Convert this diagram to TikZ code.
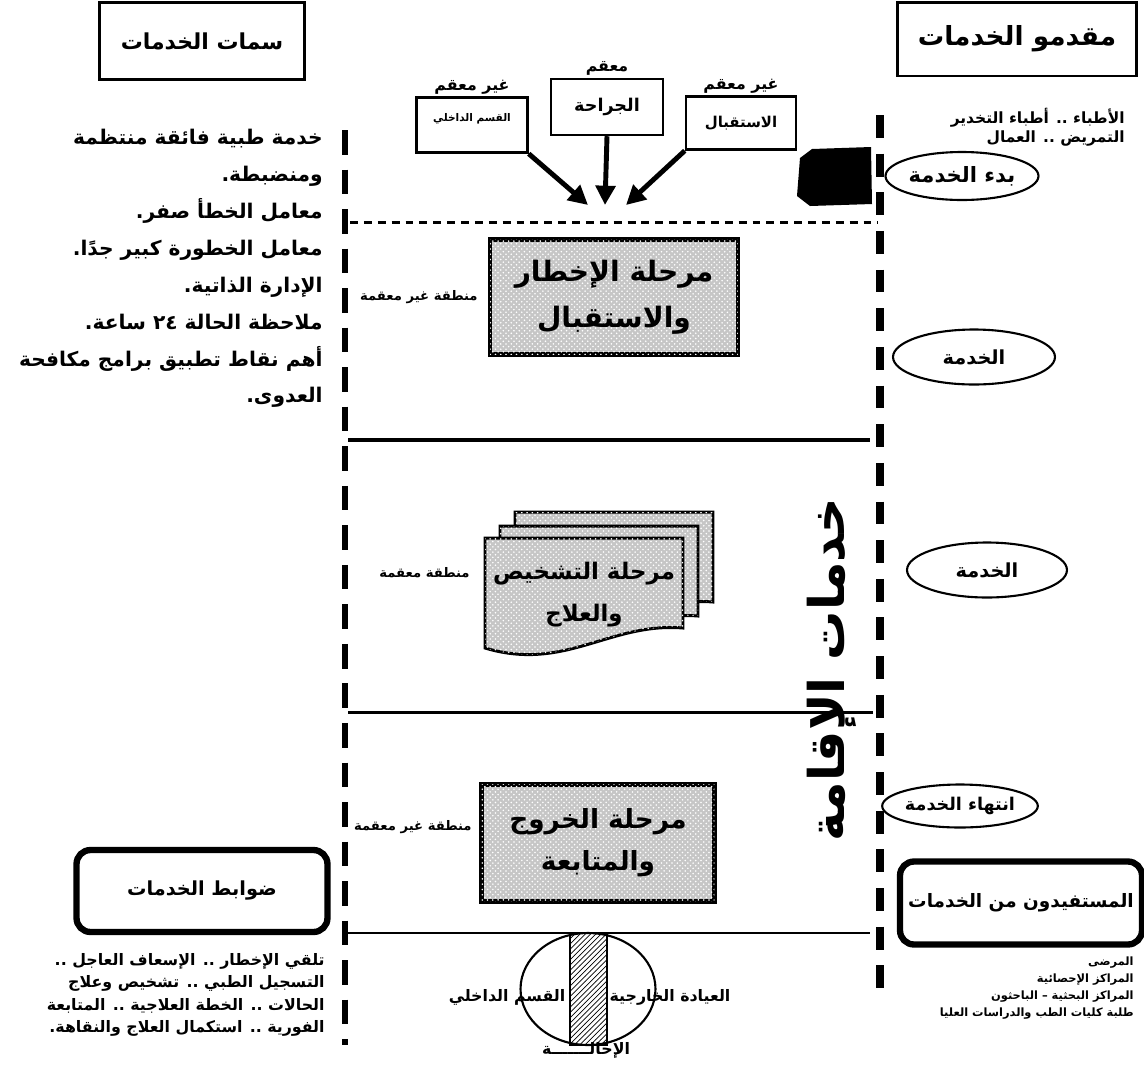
\documentclass[tikz,border=0pt]{standalone}
\usepackage{fontspec}
\usepackage{tikz}
\usetikzlibrary{arrows.meta,shapes,patterns}
\usetikzlibrary{calc}
\newfontfamily\arabicfont[Script=Arabic]{DejaVu Sans}
\TeXXeTstate=1
\newcommand{\artxt}[1]{{\arabicfont\bfseries\beginR #1\endR}}
\tikzstyle{titlebox}=[draw, line width=1.7pt, inner sep=0pt]
\tikzstyle{roundbox}=[draw, rounded corners=0.28cm, line width=3.6pt, inner sep=0pt]
\tikzstyle{unitbox}=[draw, line width=1.4pt, inner sep=0pt, font=\fontsize{9}{10}\selectfont]
\tikzstyle{phase}=[draw, line width=2.8pt, inner sep=0pt, fill=gray!45,% a grey ground with white specks
postaction={pattern=crosshatch dots, pattern color=white}, align=center, font=\fontsize{16}{26}\selectfont]
\tikzstyle{stage}=[ellipse, draw, line width=1.2pt, inner sep=0pt]
\tikzstyle{zone}=[anchor=east, inner sep=0pt, font=\fontsize{7.5}{8}\selectfont]
\tikzstyle{tag}=[font=\fontsize{9}{10}\selectfont, inner sep=1pt]
\tikzstyle{divider}=[dash pattern=on 14pt off 8.5pt]
\tikzstyle{feed}=[-{Triangle[length=11pt,width=11pt]}, line width=2.8pt]

\begin{document}
\begin{tikzpicture}[x=0.02cm, y=-0.02cm]
\useasboundingbox (0,0) rectangle (1144,1066);

\coordinate (lt) at (345,130);
\coordinate (lb) at (345,1045);
\coordinate (rt) at (880,115);
\coordinate (rb) at (880,995);
\draw[divider, line width=3.2pt] (lt) -- (lb);
\draw[divider, line width=4pt, dash pattern=on 13pt off 9pt] (rt) -- (rb);

\node[titlebox, minimum width=4.1cm, minimum height=1.54cm, font=\fontsize{12.5}{14}\selectfont] (feat) at (202,41) {\artxt{سمات الخدمات}};
\node[titlebox, minimum width=4.8cm, minimum height=1.48cm, font=\fontsize{15}{16}\selectfont] (prov) at (1017,39) {\artxt{مقدمو الخدمات}};

\node[anchor=north east, inner sep=0pt, align=right, font=\fontsize{11.5}{21}\selectfont] (featlist) at (323,129) {\artxt{خدمة طبية فائقة منتظمة}\\ \artxt{ومنضبطة.}\\ \artxt{معامل الخطأ صفر.}\\ \artxt{معامل الخطورة كبير جدًا.}\\ \artxt{الإدارة الذاتية.}\\ \artxt{ملاحظة الحالة ٢٤ ساعة.}\\ \artxt{أهم نقاط تطبيق برامج مكافحة}\\ \artxt{العدوى.}};

\node[anchor=east, inner sep=0pt, align=right, font=\fontsize{8.8}{11}\selectfont] (staff) at (1125,127) {\artxt{الأطباء .. أطباء التخدير}\\ \artxt{التمريض .. العمال}};

\node[unitbox, minimum width=2.22cm, minimum height=1.1cm, text depth=0.3cm, font=\fontsize{6}{7}\selectfont,
  label={[tag]above:{\arabicfont\bfseries\beginR غير معقم\endR}}] (inner) at (472,125) {\artxt{القسم الداخلي}};
\node[unitbox, minimum width=2.24cm, minimum height=1.12cm, font=\fontsize{10}{11}\selectfont,
  label={[tag]above:{\arabicfont\bfseries\beginR معقم\endR}}] (surg) at (607,107) {\artxt{الجراحة}};
\node[unitbox, minimum width=2.2cm, minimum height=1.06cm, font=\fontsize{8.5}{10}\selectfont,
  label={[tag]above:{\arabicfont\bfseries\beginR غير معقم\endR}}] (recep) at (741,123) {\artxt{الاستقبال}};
\coordinate (tipl) at (588,205);
\coordinate (tipm) at (605,205);
\coordinate (tipr) at (626,205);
\draw[feed] (inner.south east) -- (tipl);
\draw[feed] (surg.south) -- (tipm);
\draw[feed] (recep.south west) -- (tipr);

\fill (800,158) -- (812,149) -- (871,147) -- (872,204) -- (810,206) -- (797,196) -- cycle;
\node[stage, minimum width=3.06cm, minimum height=0.96cm, font=\fontsize{12}{13}\selectfont] (start) at (962,176) {\artxt{بدء الخدمة}};

\draw[line width=1.7pt, dash pattern=on 4.5pt off 3.4pt] (350,222) -- (878,222);

\node[phase, minimum width=4.96cm, minimum height=2.3cm] (ph1) at (614,297) {\artxt{مرحلة الإخطار}\\ \artxt{والاستقبال}};
\node[zone] (z1) at (478,297) {\artxt{منطقة غير معقمة}};
\node[stage, minimum width=3.24cm, minimum height=1.1cm, font=\fontsize{11}{12}\selectfont] (svc1) at (974,357) {\artxt{الخدمة}};

\draw[line width=2.3pt] (348,440) -- (870,440);

\foreach \dx/\dy in {30/-26,15/-12,0/0}
  \draw[line width=1.7pt, fill=gray!45, postaction={pattern=crosshatch dots, pattern color=white}, shift={(\dx,\dy)}]
    (485,538) -- (683,538) -- (683,628) .. controls (610,622) and (565,672) .. (485,648) -- cycle;
\node[align=center, font=\fontsize{13}{24}\selectfont] (ph2) at (584,595) {\artxt{مرحلة التشخيص}\\ \artxt{والعلاج}};
\node[zone] (z2) at (470,573) {\artxt{منطقة معقمة}};
\node[stage, minimum width=3.2cm, minimum height=1.1cm, font=\fontsize{11}{12}\selectfont] (svc2) at (987,570) {\artxt{الخدمة}};

\node[rotate=90, inner sep=0pt, font=\fontsize{28}{30}\selectfont] (stay) at (832,670) {\artxt{خدمات الإقامة}};
\draw[line width=1.7pt] (348,712) -- (873,712);

\node[phase, minimum width=4.66cm, minimum height=2.34cm, font=\fontsize{15}{24}\selectfont] (ph3) at (598,843) {\artxt{مرحلة الخروج}\\ \artxt{والمتابعة}};
\node[zone] (z3) at (472,827) {\artxt{منطقة غير معقمة}};
\node[stage, minimum width=1.94cm, minimum height=0.86cm, font=\fontsize{10}{11}\selectfont] (finish) at (960,806) {\artxt{انتهاء الخدمة}};

\node[roundbox, minimum width=5.02cm, minimum height=1.64cm, font=\fontsize{11}{12}\selectfont] (rules) at (202,891) {\artxt{ضوابط الخدمات}};
\node[roundbox, minimum width=4.84cm, minimum height=1.66cm, font=\fontsize{10.5}{12}\selectfont] (users) at (1021,903) {\artxt{المستفيدون من الخدمات}};

\draw[line width=1.2pt] (348,933) -- (870,933);

\node[anchor=north east, inner sep=0pt, align=right, font=\fontsize{9}{12.8}\selectfont] (rulelist) at (325,953) {\artxt{تلقي الإخطار .. الإسعاف العاجل ..}\\ \artxt{التسجيل الطبي .. تشخيص وعلاج}\\ \artxt{الحالات .. الخطة العلاجية .. المتابعة}\\ \artxt{الفورية .. استكمال العلاج والنقاهة.}};
\node[anchor=east, inner sep=0pt, align=right, font=\fontsize{6.5}{9.6}\selectfont] (userlist) at (1134,988) {\artxt{المرضى}\\ \artxt{المراكز الإحصائية}\\ \artxt{المراكز البحثية – الباحثون}\\ \artxt{طلبة كليات الطب والدراسات العليا}};

\node[ellipse, draw, line width=1.2pt, minimum width=2.7cm, minimum height=2.24cm] (ward) at (588,989) {};
\draw[line width=1.2pt, pattern=north east lines] (570,933) rectangle (607,1045);
\node[font=\fontsize{9}{10}\selectfont] (inpat) at (507,997) {\artxt{القسم الداخلي}};
\node[font=\fontsize{9}{10}\selectfont] (outpat) at (670,997) {\artxt{العيادة الخارجية}};
\node[font=\fontsize{9}{10}\selectfont] (refer) at (586,1050) {\artxt{الإحالـــــــة}};
\end{tikzpicture}
\end{document}
